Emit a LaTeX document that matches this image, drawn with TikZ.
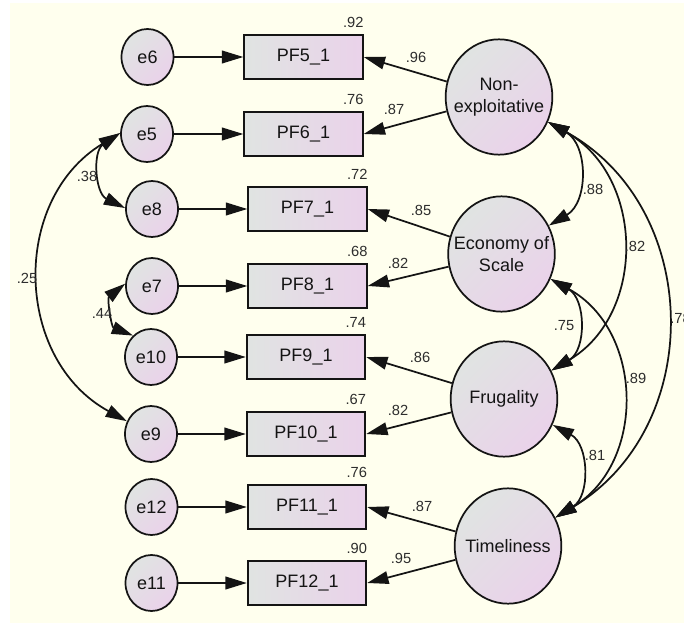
\documentclass[tikz,border=0pt]{standalone}
\usepackage{fontspec}
\setmainfont{Liberation Sans}
\usetikzlibrary{arrows.meta,shapes.geometric}
\definecolor{bg}{RGB}{255,255,238}
\definecolor{gfill}{RGB}{224,228,226}
\definecolor{pfill}{RGB}{234,210,234}
\definecolor{ink}{RGB}{20,20,20}
\definecolor{numink}{RGB}{45,45,45}
\begin{document}
\begin{tikzpicture}[x=0.75pt,y=-0.75pt,
  >={Triangle[length=16pt,width=9.5pt]},
  mainfont/.style={font=\fontsize{13.5}{16.5}\selectfont},
  err/.style={ellipse, draw=ink, line width=1.3pt, minimum width=39pt, minimum height=42pt,
    inner sep=0pt, top color=gfill, bottom color=pfill, shading angle=45, text=ink, mainfont},
  lat/.style={ellipse, draw=ink, line width=1.3pt, minimum width=80pt, minimum height=86.5pt,
    inner sep=0pt, top color=gfill, bottom color=pfill, shading angle=45},
  lattext/.style={align=center, text=ink, inner sep=0pt, mainfont},
  obs/.style={rectangle, draw=ink, line width=1.3pt, minimum width=89pt, minimum height=33pt,
    inner sep=0pt, left color=gfill, right color=pfill, text=ink, mainfont},
  arr/.style={->, line width=1.3pt, draw=ink},
  cov/.style={<->, line width=1.3pt, draw=ink},
  lab/.style={font=\fontsize{11}{12}\selectfont, text=numink, inner sep=0pt},
  r2/.style={lab, anchor=south east}
]
\useasboundingbox (0,0) rectangle (684,623);
\fill[white] (0,0) rectangle (684,623);
\fill[bg] (10,3) rectangle (684,623);

% error terms
\node[err] (e6)  at (147.5,57)  {e6};
\node[err] (e5)  at (147,134)   {e5};
\node[err] (e8)  at (152,209)   {e8};
\node[err] (e7)  at (152,286)   {e7};
\node[err] (e10) at (151,357)   {e10};
\node[err] (e9)  at (151,434)   {e9};
\node[err] (e12) at (151.5,507) {e12};
\node[err] (e11) at (151.5,583) {e11};

% observed
\node[obs] (pf5)  at (303.5,57)  {PF5\_1};
\node[obs] (pf6)  at (303.5,134) {PF6\_1};
\node[obs] (pf7)  at (307.5,209) {PF7\_1};
\node[obs] (pf8)  at (307.5,286) {PF8\_1};
\node[obs] (pf9)  at (306,357)   {PF9\_1};
\node[obs] (pf10) at (306,434)   {PF10\_1};
\node[obs] (pf11) at (307,507)   {PF11\_1};
\node[obs] (pf12) at (307,583)   {PF12\_1};

% latent
\node[lat] (ne) at (499,97) {};
\node[lattext] (net) at (ne) {Non-\\exploitative};
\node[lat] (es) at (501.5,254) {};
\node[lattext] (est) at (es) {Economy of\\Scale};
\node[lat] (fr) at (504,399) {};
\node[lattext] (frt) at (fr) {Frugality};
\node[lat] (ti) at (508,546) {};
\node[lattext] (tit) at (ti) {Timeliness};

% error arrows
\draw[arr] (e6.east) -- (pf5.west);
\draw[arr] (e5.east) -- (pf6.west);
\draw[arr] (e8.east) -- (pf7.west);
\draw[arr] (e7.east) -- (pf8.west);
\draw[arr] (e10.east) -- (pf9.west);
\draw[arr] (e9.east) -- (pf10.west);
\draw[arr] (e12.east) -- (pf11.west);
\draw[arr] (e11.east) -- (pf12.west);

% loadings
\draw[arr] (ne) -- (pf5.east);
\draw[arr] (ne) -- (pf6.east);
\draw[arr] (es) -- (pf7.east);
\draw[arr] (es) -- (pf8.east);
\draw[arr] (fr) -- (pf9.east);
\draw[arr] (fr) -- (pf10.east);
\draw[arr] (ti) -- (pf11.east);
\draw[arr] (ti) -- (pf12.east);

% latent covariances
\draw[cov] (ne.-27) to[bend left=60,looseness=1.14] (es.31);
\draw[cov] (ne.-27) to[bend left=60,looseness=1.14] (fr.31);
\draw[cov] (ne.-27) to[bend left=60,looseness=1.14] (ti.31);
\draw[cov] (es.-27) to[bend left=60,looseness=1.14] (fr.31);
\draw[cov] (es.-27) to[bend left=60,looseness=1.14] (ti.31);
\draw[cov] (fr.-28) to[bend left=60,looseness=1.14] (ti.31);

% error covariances
\draw[cov] (e5.178) to[bend right=60,looseness=1.14] (e8.178);
\draw[cov] (e5.178) to[bend right=60,looseness=1.14] (e9.152);
\draw[cov] (e7.175) to[bend right=60,looseness=1.14] (e10.130);

% R2 labels
\node[r2] (r5)  at ([yshift=5pt]pf5.north east)  {.92};
\node[r2] (r6)  at ([yshift=5pt]pf6.north east)  {.76};
\node[r2] (r7)  at ([yshift=5pt]pf7.north east)  {.72};
\node[r2] (r8)  at ([yshift=5pt]pf8.north east)  {.68};
\node[r2] (r9)  at ([yshift=5pt]pf9.north east)  {.74};
\node[r2] (r10) at ([yshift=5pt]pf10.north east) {.67};
\node[r2] (r11) at ([yshift=5pt]pf11.north east) {.76};
\node[r2] (r12) at ([yshift=5pt]pf12.north east) {.90};

% loading labels
\node[lab] (l5)  at (416,57)  {.96};
\node[lab] (l6)  at (394,109) {.87};
\node[lab] (l7)  at (421,210) {.85};
\node[lab] (l8)  at (398,263) {.82};
\node[lab] (l9)  at (420,357) {.86};
\node[lab] (l10) at (398,410) {.82};
\node[lab] (l11) at (422,506) {.87};
\node[lab] (l12) at (401,558) {.95};

% covariance labels
\node[lab] (c1) at (593,189) {.88};
\node[lab] (c2) at (635,246) {.82};
\node[lab, anchor=west] (c3) at (670,318) {.78};
\node[lab] (c4) at (564,326) {.75};
\node[lab] (c5) at (636,378) {.89};
\node[lab] (c6) at (595,455) {.81};
\node[lab] (c7) at (87,176)  {.38};
\node[lab] (c8) at (27,278)  {.25};
\node[lab] (c9) at (102,313) {.44};
\end{tikzpicture}
\end{document}
